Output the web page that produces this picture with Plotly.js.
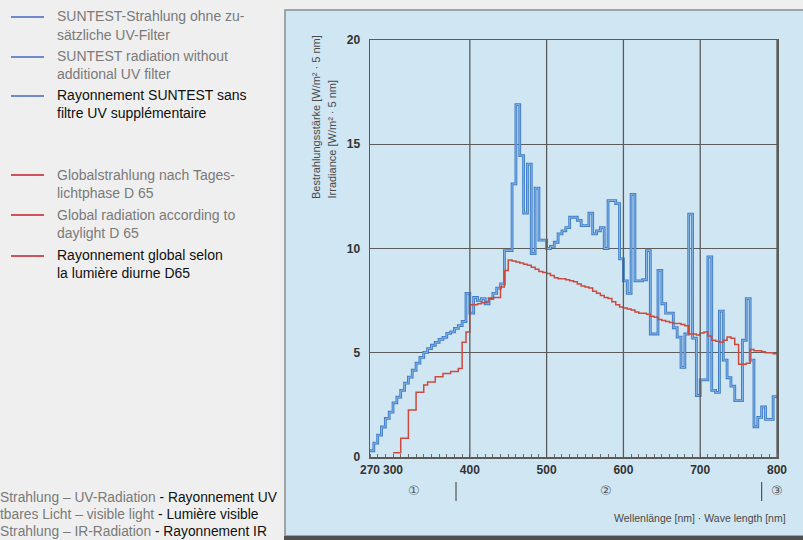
<!DOCTYPE html>
<html>
<head>
<meta charset="utf-8">
<script src="https://cdn.plot.ly/plotly-3.0.1.min.js"></script>
<style>
html,body{margin:0;padding:0;background:#efefef;}
#chart{width:803px;height:540px;}
</style>
</head>
<body>
<div id="chart"></div>
<script>
// ---- data (irradiance per 5 nm band, W/m² · 5 nm) ----
// SUNTEST radiation without additional UV filter: band start 270 nm ... 795 nm
const suntestStart = 270;
const suntestValues = [
  0.3, 0.67, 1.05, 1.44, 1.85, 2.15, 2.6, 2.87, 3.2, 3.54,      // 270-315
  3.83, 4.16, 4.5, 4.78, 5.02, 5.2, 5.36, 5.5, 5.64, 5.74,      // 320-365
  5.93, 6.0, 6.17, 6.3, 6.5, 7.85,                              // 370-395
  6.9, 7.65, 7.5, 7.6, 7.35, 7.6, 7.85, 8.1, 8.3, 9.9,          // 400-445
  9.9, 13.1, 16.9, 14.45, 11.7, 14.05, 9.75, 12.9, 10.4, 10.4,  // 450-495
  10.0, 10.1, 10.3, 10.7, 10.85, 11.0, 11.5, 11.5, 11.35, 11.1, // 500-545
  11.1, 11.7, 10.7, 10.85, 11.0, 10.0, 12.3, 12.3, 12.15, 9.5,  // 550-595
  8.45, 7.85, 12.6, 8.45, 8.45, 8.5, 9.9, 5.9, 5.9, 8.95,       // 600-645
  7.35, 6.9, 6.9, 6.2, 5.75, 4.3, 5.9, 11.65, 5.7, 2.95,        // 650-695
  3.7, 3.7, 9.6, 3.2, 3.1, 7.0, 4.65, 3.8, 3.4, 2.7,            // 700-745
  2.7, 5.6, 7.6, 4.65, 1.45, 1.9, 2.4, 1.8, 1.8, 2.9            // 750-795
];
// Global radiation according to daylight D65: band start 300 nm ... 795 nm
const d65Start = 300;
const d65Values = [
  0.2, 0.2, 0.9, 0.9, 2.25, 2.25, 3.1, 3.1, 3.45, 3.6,          // 300-345
  3.6, 3.85, 3.85, 4.0, 4.0, 4.1, 4.1, 4.25, 5.5, 6.0,          // 350-395
  7.3, 7.3, 7.35, 7.4, 7.45, 7.6, 7.65, 7.65, 8.15, 8.95,       // 400-445
  9.45, 9.4, 9.35, 9.3, 9.25, 9.2, 9.1, 9.0, 8.9, 8.85,         // 450-495
  8.8, 8.7, 8.6, 8.55, 8.55, 8.5, 8.45, 8.4, 8.3, 8.2,          // 500-545
  8.15, 8.1, 7.95, 7.85, 7.75, 7.65, 7.6, 7.45, 7.3, 7.2,       // 550-595
  7.15, 7.1, 7.05, 6.95, 6.9, 6.9, 6.85, 6.75, 6.7, 6.6,        // 600-645
  6.55, 6.5, 6.45, 6.4, 6.4, 6.35, 6.3, 5.9, 5.9, 5.85,         // 650-695
  5.95, 6.0, 5.8, 5.6, 5.55, 5.5, 5.6, 5.75, 5.7, 5.4,          // 700-745
  4.45, 4.45, 4.5, 5.15, 5.1, 5.1, 5.05, 5.0, 5.0, 4.95         // 750-795
];
const bandWidth = 5;
const xTickVals = [270, 300, 400, 500, 600, 700, 800];
const xTickText = ['270', '300', '400', '500', '600', '700', '800'];
const yTickVals = [0, 5, 10, 15, 20];
const xGridVals = [400, 500, 600, 700, 800];
const regionLabels = ['①', '②', '③'];
const regionLabelPos = [327, 577, 800];
const regionBounds = [382, 780];

function stepXY(start, vals) {
  const x = [], y = [];
  vals.forEach((v, i) => { x.push(start + i * bandWidth); y.push(v); });
  x.push(start + vals.length * bandWidth); y.push(vals[vals.length - 1]);
  return {x, y};
}
const s1 = stepXY(suntestStart, suntestValues);
const s2 = stepXY(d65Start, d65Values);

// ---- layout helpers (pixel -> paper) ----
const L = 370, R = 777, T = 40, B = 457;
const px = v => (v - L) / (R - L);
const py = v => (B - v) / (B - T);

const gray = '#7a7a7a';
const txtFont = 'Liberation Sans, Arial, sans-serif';

const traces = [
  {x: s1.x, y: s1.y, type: 'scatter', mode: 'lines', line: {shape: 'hv', color: '#3f7cc8', width: 2.8}, hoverinfo: 'skip'},
  {x: s1.x, y: s1.y, type: 'scatter', mode: 'lines', line: {shape: 'hv', color: '#8cbbe9', width: 0.9}, hoverinfo: 'skip'},
  {x: s2.x, y: s2.y, type: 'scatter', mode: 'lines', line: {shape: 'hv', color: '#cc4a3e', width: 1.5}, hoverinfo: 'skip'}
];

const shapes = [
  // blue panel
  {type: 'rect', xref: 'paper', yref: 'paper', x0: px(285), x1: px(806), y0: py(536), y1: py(10),
   fillcolor: '#d0e6f3', line: {color: '#8c8c8c', width: 1.5}, layer: 'below'},
  {type: 'line', xref: 'paper', yref: 'paper', x0: px(284), x1: px(806), y0: py(538), y1: py(538),
   line: {color: '#505050', width: 4}, layer: 'below'},
];
xGridVals.forEach(v => shapes.push({type: 'line', xref: 'x', yref: 'paper', x0: v, x1: v, y0: 0, y1: 1,
  line: {color: '#5c5c5c', width: 1.3}, layer: 'above'}));
regionBounds.forEach(v => shapes.push({type: 'line', xref: 'x', yref: 'paper', x0: v, x1: v, y0: py(482), y1: py(501),
  line: {color: '#555', width: 1.2}}));
// legend swatches
[17, 57, 96].forEach(y => shapes.push({type: 'line', xref: 'paper', yref: 'paper', x0: px(11), x1: px(44), y0: py(y), y1: py(y),
  line: {color: '#7088cc', width: 2}}));
[175, 215, 256].forEach(y => shapes.push({type: 'line', xref: 'paper', yref: 'paper', x0: px(11), x1: px(44), y0: py(y), y1: py(y),
  line: {color: '#d2505e', width: 2}}));

const legendLines = [
  [16, 'SUNTEST-Strahlung ohne zu-', gray],
  [35, 'sätzliche UV-Filter', gray],
  [56, 'SUNTEST radiation without', gray],
  [74, 'additional UV filter', gray],
  [95, 'Rayonnement SUNTEST sans', '#111'],
  [113, 'filtre UV supplémentaire', '#111'],
  [175, 'Globalstrahlung nach Tages-', gray],
  [193, 'lichtphase D 65', gray],
  [215, 'Global radiation according to', gray],
  [233, 'daylight D 65', gray],
  [255, 'Rayonnement global selon', '#111'],
  [273, 'la lumière diurne D65', '#111']
];
const annotations = legendLines.map(([y, t, c]) => ({
  xref: 'paper', yref: 'paper', x: px(55), y: py(y), xanchor: 'left', yanchor: 'middle',
  text: t, showarrow: false, font: {family: txtFont, size: 14, color: c}
}));
const bottomLines = [
  [497, 'Strahlung – UV-Radiation', ' - Rayonnement UV'],
  [514, 'tbares Licht – visible light', ' - Lumière visible'],
  [531, 'Strahlung – IR-Radiation', ' - Rayonnement IR']
];
bottomLines.forEach(([y, a, b]) => annotations.push({
  xref: 'paper', yref: 'paper', x: px(-2), y: py(y), xanchor: 'left', yanchor: 'middle',
  text: '<span style="color:' + gray + '">' + a + '</span>' + b, showarrow: false,
  font: {family: txtFont, size: 13.8, color: '#111'}
}));
// y-axis titles
annotations.push({xref: 'paper', yref: 'paper', x: px(316), y: py(201), xanchor: 'center', yanchor: 'bottom',
  textangle: -90, text: 'Bestrahlungsstärke [W/m² · 5 nm]', showarrow: false,
  font: {family: txtFont, size: 11, color: '#4a4a4a'}});
annotations.push({xref: 'paper', yref: 'paper', x: px(331), y: py(201), xanchor: 'center', yanchor: 'bottom',
  textangle: -90, text: 'Irradiance [W/m² · 5 nm]', showarrow: false,
  font: {family: txtFont, size: 11, color: '#4a4a4a'}});
// x-axis title
annotations.push({xref: 'paper', yref: 'paper', x: px(788), y: py(518), xanchor: 'right', yanchor: 'middle',
  text: 'Wellenlänge [nm] · Wave length [nm]', showarrow: false,
  font: {family: txtFont, size: 10.5, color: '#4a4a4a'}});
regionLabels.forEach((t, i) => annotations.push({xref: 'x', yref: 'paper', x: regionLabelPos[i], y: py(490),
  xanchor: 'center', yanchor: 'middle', text: t, showarrow: false,
  font: {family: 'DejaVu Sans, Noto Sans CJK JP, sans-serif', size: 13, color: '#555'}}));

const tickFont = {family: 'Liberation Sans Narrow, Liberation Sans, Arial, sans-serif', size: 12, color: '#333', weight: 'bold'};

const layout = {
  width: 803, height: 540,
  margin: {l: L, r: 803 - R, t: T, b: 540 - B, pad: 0},
  paper_bgcolor: '#efefef', plot_bgcolor: 'rgba(0,0,0,0)',
  showlegend: false,
  xaxis: {range: [270, 800], tickmode: 'array', tickvals: xTickVals, ticktext: xTickText,
    showgrid: false, zeroline: false, showline: true, linecolor: '#5a5a5a', linewidth: 1.5, mirror: true,
    ticks: 'outside', ticklen: 1, tickcolor: 'rgba(0,0,0,0)', tickfont: tickFont,
    minor: {tick0: 0, dtick: 10, ticks: 'inside', ticklen: 3, tickcolor: '#6a6a6a', tickwidth: 1, showgrid: false}},
  yaxis: {range: [0, 20], tickmode: 'array', tickvals: yTickVals,
    showgrid: true, gridcolor: '#5c5c5c', gridwidth: 1.3, zeroline: false,
    showline: true, linecolor: '#5a5a5a', linewidth: 1.5, mirror: true,
    ticks: 'outside', ticklen: 6, tickcolor: 'rgba(0,0,0,0)', tickfont: tickFont},
  shapes: shapes,
  annotations: annotations
};

Plotly.newPlot('chart', traces, layout, {displayModeBar: false, staticPlot: true});
</script>
</body>
</html>
